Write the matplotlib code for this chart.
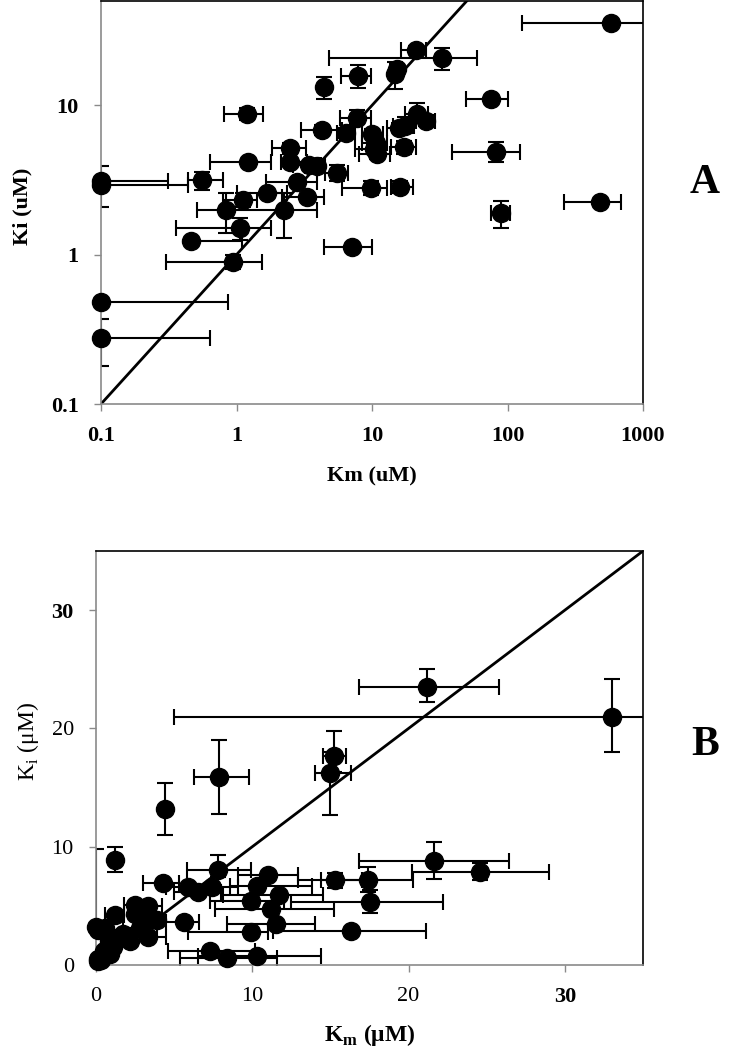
import matplotlib.pyplot as plt
import numpy as np

plt.rcParams['font.family'] = ['Liberation Serif', 'DejaVu Serif']
plt.rcParams['mathtext.fontset'] = 'custom'
plt.rcParams['mathtext.rm'] = 'Liberation Serif'

# Panel A (log-log): Km, Ki and the ends of their error bars (uM)
a_km    = [582, 21.1, 32.7, 14.8, 15.3, 7.9, 4.4, 1.2, 76, 82, 90, 483, 21.4, 25, 4.3, 6.4, 7.8,
           10.0, 10.7, 10.8, 10.3, 15.8, 17.4, 17.2, 16.1, 9.8, 7.1, 5.5, 3.9, 3.4, 2.5, 2.5, 1.22,
           2.8, 0.56, 0.1, 0.1, 1.69, 1.12, 3.3, 0.84, 2.25, 1.07, 0.46, 0.94, 0.1, 0.1]
a_ki    = [35.8, 23.6, 20.9, 16.3, 17.5, 15.8, 13.2, 8.8, 11.0, 4.9, 1.9, 2.25, 8.8, 7.9, 6.8, 6.5, 8.2,
           6.4, 5.6, 4.7, 5.1, 7.1, 7.3, 5.25, 2.84, 2.8, 1.13, 3.5, 3.9, 4.0, 5.2, 4.2, 4.17,
           3.07, 3.16, 3.1, 2.95, 2.59, 2.33, 2.44, 2.0, 2.0, 1.51, 1.24, 0.9, 0.48, 0.275]
a_km_lo = [127, 16.3, 4.8, 13.5, 14.2, 5.9, 4.2, 0.81, 49.5, 39, 75, 262, 17.5, 21, 3.0, 5.5, 5.8,
           8.5, 8.5, 8.0, 7.5, 12.8, 14.4, 13.7, 13.7, 6.0, 4.45, 4.5, 3.2, 2.6, 1.84, 2.14, 0.64,
           1.66, 0.44, 0.1, 0.1, 1.0, 0.79, 2.17, 0.51, 2.25, 0.36, 0.46, 0.30, 0.1, 0.1]
a_km_hi = [2500, 25, 60, 16.2, 16.5, 9.8, 4.6, 1.58, 100, 124, 105, 690, 26, 29, 6.0, 7.5, 9.9,
           12, 13, 13.5, 12.5, 17.2, 20.3, 21, 20, 13.0, 10, 6.6, 4.5, 4.2, 3.26, 3.33, 1.81,
           3.9, 0.79, 0.31, 0.44, 2.37, 1.42, 4.45, 3.9, 2.25, 1.81, 1.09, 1.55, 0.87, 0.64]
a_ki_lo = [35.8, 22.5, 17.3, 12.8, 16.0, 13.0, 11.0, 8.0, 10.5, 4.2, 1.5, 2.25, 7.7, 7.3, 6.3, 6.0, 7.5,
           6.0, 5.2, 4.4, 4.8, 6.6, 6.5, 4.7, 2.6, 2.5, 1.13, 3.1, 3.9, 4.0, 4.7, 4.2, 4.17,
           3.07, 2.7, 2.1, 2.95, 2.59, 2.1, 2.44, 1.4, 1.3, 1.26, 1.24, 0.8, 0.48, 0.18]
a_ki_hi = [35.8, 24.8, 24.3, 19.6, 19.0, 18.5, 15.5, 9.6, 11.5, 5.7, 2.3, 2.25, 10.3, 8.6, 7.4, 7.0, 9.3,
           6.9, 6.0, 5.0, 5.4, 7.6, 8.3, 5.8, 3.1, 3.1, 1.13, 4.0, 3.9, 4.0, 5.6, 4.2, 4.17,
           3.07, 3.6, 3.9, 2.95, 2.59, 2.6, 2.44, 2.6, 2.6, 1.77, 1.24, 1.0, 0.48, 0.37]

# Panel B (linear): Km, Ki and the ends of their error bars (uM)
b_km    = [21.2, 33.0, 15.2, 15.0, 7.9, 4.4, 1.2, 21.6, 24.6, 7.8, 11.0, 15.3, 17.4, 4.3, 5.9, 6.5,
           7.4, 10.3, 11.7, 9.9, 11.2, 17.5, 5.6, 11.5, 9.9, 16.3, 7.3, 8.4, 10.3, 2.5, 3.3, 2.5,
           1.2, 3.4, 3.9, 2.8, 0.0, 0.1, 0.6, 1.7, 1.1, 3.3, 0.8, 2.2, 1.1, 0.5, 0.9, 0.1, 0.1, 0.3]
b_ki    = [23.5, 21.0, 17.7, 16.2, 15.9, 13.2, 8.9, 8.8, 7.9, 8.0, 7.6, 7.2, 7.2, 6.9, 6.6, 6.2,
           6.6, 6.7, 5.9, 5.4, 4.7, 5.3, 3.6, 3.5, 2.8, 2.9, 1.2, 0.6, 0.8, 5.1, 5.0, 4.3,
           4.2, 3.9, 3.8, 3.1, 3.2, 3.0, 3.1, 2.6, 2.3, 2.4, 2.0, 2.0, 1.5, 1.2, 0.9, 0.5, 0.3, 0.4]
b_km_lo = [16.8, 5.0, 14.5, 14.0, 6.3, 4.4, 1.2, 16.8, 20.2, 5.8, 9.1, 12.9, 14.4, 3.0, 4.5, 5.0,
           5.8, 8.6, 8.1, 7.3, 7.6, 12.5, 4.5, 8.4, 5.9, 11.3, 4.6, 5.4, 6.5, 1.8, 2.6, 2.5,
           0.6, 3.4, 3.9, 1.7, 0.0, 0.1, 0.6, 1.0, 1.1, 2.2, 0.8, 2.2, 1.1, 0.5, 0.9, 0.1, 0.1, 0.3]
b_km_hi = [25.8, 60.0, 16.0, 16.3, 9.8, 4.4, 1.2, 26.4, 29.0, 9.9, 12.9, 17.0, 20.3, 5.3, 7.2, 8.0,
           9.1, 13.8, 14.5, 12.0, 15.2, 22.2, 6.6, 14.0, 11.0, 21.1, 10.2, 11.6, 14.4, 3.3, 4.2, 2.5,
           1.8, 3.4, 3.9, 3.9, 0.0, 0.1, 0.6, 2.4, 1.1, 4.5, 0.8, 2.2, 1.1, 0.5, 0.9, 0.1, 0.1, 0.3]
b_ki_lo = [22.2, 18.0, 16.3, 12.7, 12.8, 11.0, 7.9, 7.3, 7.2, 7.4, 7.6, 6.5, 6.2, 6.9, 6.6, 6.2,
           6.6, 6.7, 5.9, 5.4, 4.7, 4.4, 3.6, 3.5, 2.8, 2.9, 1.2, 0.6, 0.8, 5.1, 5.0, 4.3,
           4.2, 3.9, 3.8, 3.1, 3.2, 3.0, 3.1, 2.6, 2.3, 2.4, 2.0, 2.0, 1.5, 1.2, 0.9, 0.5, 0.3, 0.4]
b_ki_hi = [25.0, 24.2, 19.8, 18.0, 19.0, 15.4, 10.0, 10.4, 8.6, 9.3, 7.6, 7.8, 8.3, 6.9, 6.6, 6.2,
           6.6, 6.7, 5.9, 5.4, 4.7, 6.3, 3.6, 3.5, 2.8, 2.9, 1.2, 0.6, 0.8, 5.1, 5.0, 4.3,
           4.2, 3.9, 3.8, 3.1, 9.8, 3.0, 3.1, 2.6, 2.3, 2.4, 2.0, 2.0, 1.5, 1.2, 0.9, 0.5, 0.3, 0.4]


def draw_points(ax, km, ki, km_lo, km_hi, ki_lo, ki_hi):
    km, ki = np.array(km), np.array(ki)
    xerr = [km - np.array(km_lo), np.array(km_hi) - km]
    yerr = [ki - np.array(ki_lo), np.array(ki_hi) - ki]
    ax.errorbar(km, ki, xerr=xerr, yerr=yerr, fmt='none', ecolor='black',
                elinewidth=1.5, capsize=6, capthick=1.5, zorder=2)
    ax.plot(km, ki, 'o', ms=13, color='black', clip_on=False, zorder=3)


def style_axes(ax):
    for side in ['left', 'bottom']:
        ax.spines[side].set_color('#8a8a8a')
        ax.spines[side].set_linewidth(1.2)
    for side in ['top', 'right']:
        ax.spines[side].set_color('black')
        ax.spines[side].set_linewidth(1.2)
    ax.tick_params(direction='out', length=5, width=1, color='#8a8a8a', labelsize=16, pad=11)
    ax.minorticks_off()


fig = plt.figure(figsize=(7.5, 10.5), dpi=100)

# --- A: log-log ---
axA = fig.add_axes([101/750, 1 - 404/1050, 542/750, 403/1050])
draw_points(axA, a_km, a_ki, a_km_lo, a_km_hi, a_ki_lo, a_ki_hi)
axA.plot([0.1, 1000], [0.1, 1000], color='black', lw=2, zorder=2.5)
axA.set_xscale('log')
axA.set_yscale('log')
axA.set_xlim(0.1, 1000)
axA.set_ylim(0.1, 50)
axA.set_xticks([0.1, 1, 10, 100, 1000])
axA.set_xticklabels(['0.1', '1', '10', '100', '1000'], fontweight='bold')
axA.set_yticks([0.1, 1, 10])
axA.set_yticklabels(['0.1', '1', '10'], fontweight='bold')
style_axes(axA)
fig.text(372/750, 1 - 476/1050, 'Km (uM)', ha='center', va='center', fontsize=16, fontweight='bold')
fig.text(22/750, 1 - 206/1050, 'Ki (uM)', ha='center', va='center', rotation=90,
         fontsize=16, fontweight='bold')
fig.text(705/750, 1 - 183/1050, 'A', ha='center', va='center', fontsize=30, fontweight='bold')

# --- B: linear ---
axB = fig.add_axes([96/750, 1 - 965/1050, 547/750, 414/1050])
draw_points(axB, b_km, b_ki, b_km_lo, b_km_hi, b_ki_lo, b_ki_hi)
axB.plot([0, 35], [0, 35], color='black', lw=2, zorder=2.5)
axB.set_xlim(0, 35)
axB.set_ylim(0, 35)
axB.set_xticks([0, 10, 20, 30])
axB.set_yticks([0, 10, 20, 30])
style_axes(axB)
axB.get_xticklabels()[-1].set_fontweight('bold')
axB.get_yticklabels()[-1].set_fontweight('bold')
fig.text(370/750, 1 - 1035/1050, r'K$_\mathregular{m}$ ($\mathregular{\mu}$M)', ha='center', va='center',
         fontsize=17, fontweight='bold')
fig.text(28/750, 1 - 742/1050, r'K$_\mathregular{i}$ ($\mathregular{\mu}$M)', ha='center', va='center',
         rotation=90, fontsize=17)
fig.text(705/750, 1 - 745/1050, 'B', ha='center', va='center', fontsize=30, fontweight='bold')

fig.savefig('out.png', dpi=100)
